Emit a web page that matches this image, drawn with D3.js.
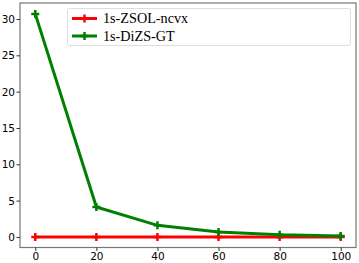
<!DOCTYPE html>
<html><head><meta charset="utf-8">
<script src="https://cdn.jsdelivr.net/npm/d3@7"></script>
<style>body{margin:0;background:#fff}</style>
</head><body>
<svg id="c" width="359" height="263"></svg>
<script>
const xs = [0, 20, 40, 60, 80, 100];
const seriesNames = ["1s-ZSOL-ncvx", "1s-DiZS-GT"];
const zsol = [0, 0, 0, 0, 0, 0];
const dizs = [30.7, 4.13, 1.6, 0.69, 0.32, 0.14];
const colors = ["#ff0000", "#008000"];
const xTicks = [0, 20, 40, 60, 80, 100];
const yTicks = [0, 5, 10, 15, 20, 25, 30];

const svg = d3.select("#c");
const L = 20, R = 356, T = 3, B = 247.5;
const x = d3.scaleLinear().domain([-5, 105]).range([L, R]);
const y = d3.scaleLinear().domain([-1.45, 32.2]).range([B, T]);

const series = [zsol, dizs];
const line = d3.line().x((d, i) => x(xs[i])).y(d => y(d));

series.forEach((s, k) => {
  svg.append("path").attr("d", line(s)).attr("fill", "none")
    .attr("stroke", colors[k]).attr("stroke-width", 3);
  s.forEach((v, i) => {
    const cx = x(xs[i]), cy = y(v);
    svg.append("path").attr("d", `M${cx-4},${cy}H${cx+4}M${cx},${cy-4}V${cy+4}`)
      .attr("stroke", colors[k]).attr("stroke-width", 2.5);
  });
});

svg.append("rect").attr("x", L).attr("y", T).attr("width", R - L).attr("height", B - T)
  .attr("fill", "none").attr("stroke", "#777").attr("stroke-width", 1.2);

const xAxis = d3.axisBottom(x).tickValues(xTicks).tickSize(3.5).tickPadding(1.5);
const gx = svg.append("g").attr("transform", `translate(0,${B})`).call(xAxis);
const yAxis = d3.axisLeft(y).tickValues(yTicks).tickSize(3.5).tickPadding(1.5);
const gy = svg.append("g").attr("transform", `translate(${L},0)`).call(yAxis);
[gx, gy].forEach(g => {
  g.select(".domain").remove();
  g.selectAll("line").attr("stroke", "#333");
  g.selectAll("text").attr("font-family", "DejaVu Sans").attr("font-size", 10.5).attr("fill", "#000");
});

// legend
const lg = svg.append("g");
lg.append("rect").attr("x", 67.5).attr("y", 8.5).attr("width", 283).attr("height", 37)
  .attr("rx", 2).attr("fill", "#fff").attr("fill-opacity", 0.8).attr("stroke", "#ddd");
seriesNames.forEach((n, k) => {
  const yy = 18.5 + k * 17.5;
  lg.append("line").attr("x1", 72).attr("x2", 97).attr("y1", yy).attr("y2", yy)
    .attr("stroke", colors[k]).attr("stroke-width", 3);
  lg.append("path").attr("d", `M80.5,${yy}h8M84.5,${yy-4}v8`).attr("stroke", colors[k]).attr("stroke-width", 2.5);
  lg.append("text").attr("x", 103).attr("y", yy + 4.5).text(n)
    .attr("font-family", "Liberation Serif").attr("font-size", 14.2).attr("fill", "#000");
});
</script>
</body></html>
